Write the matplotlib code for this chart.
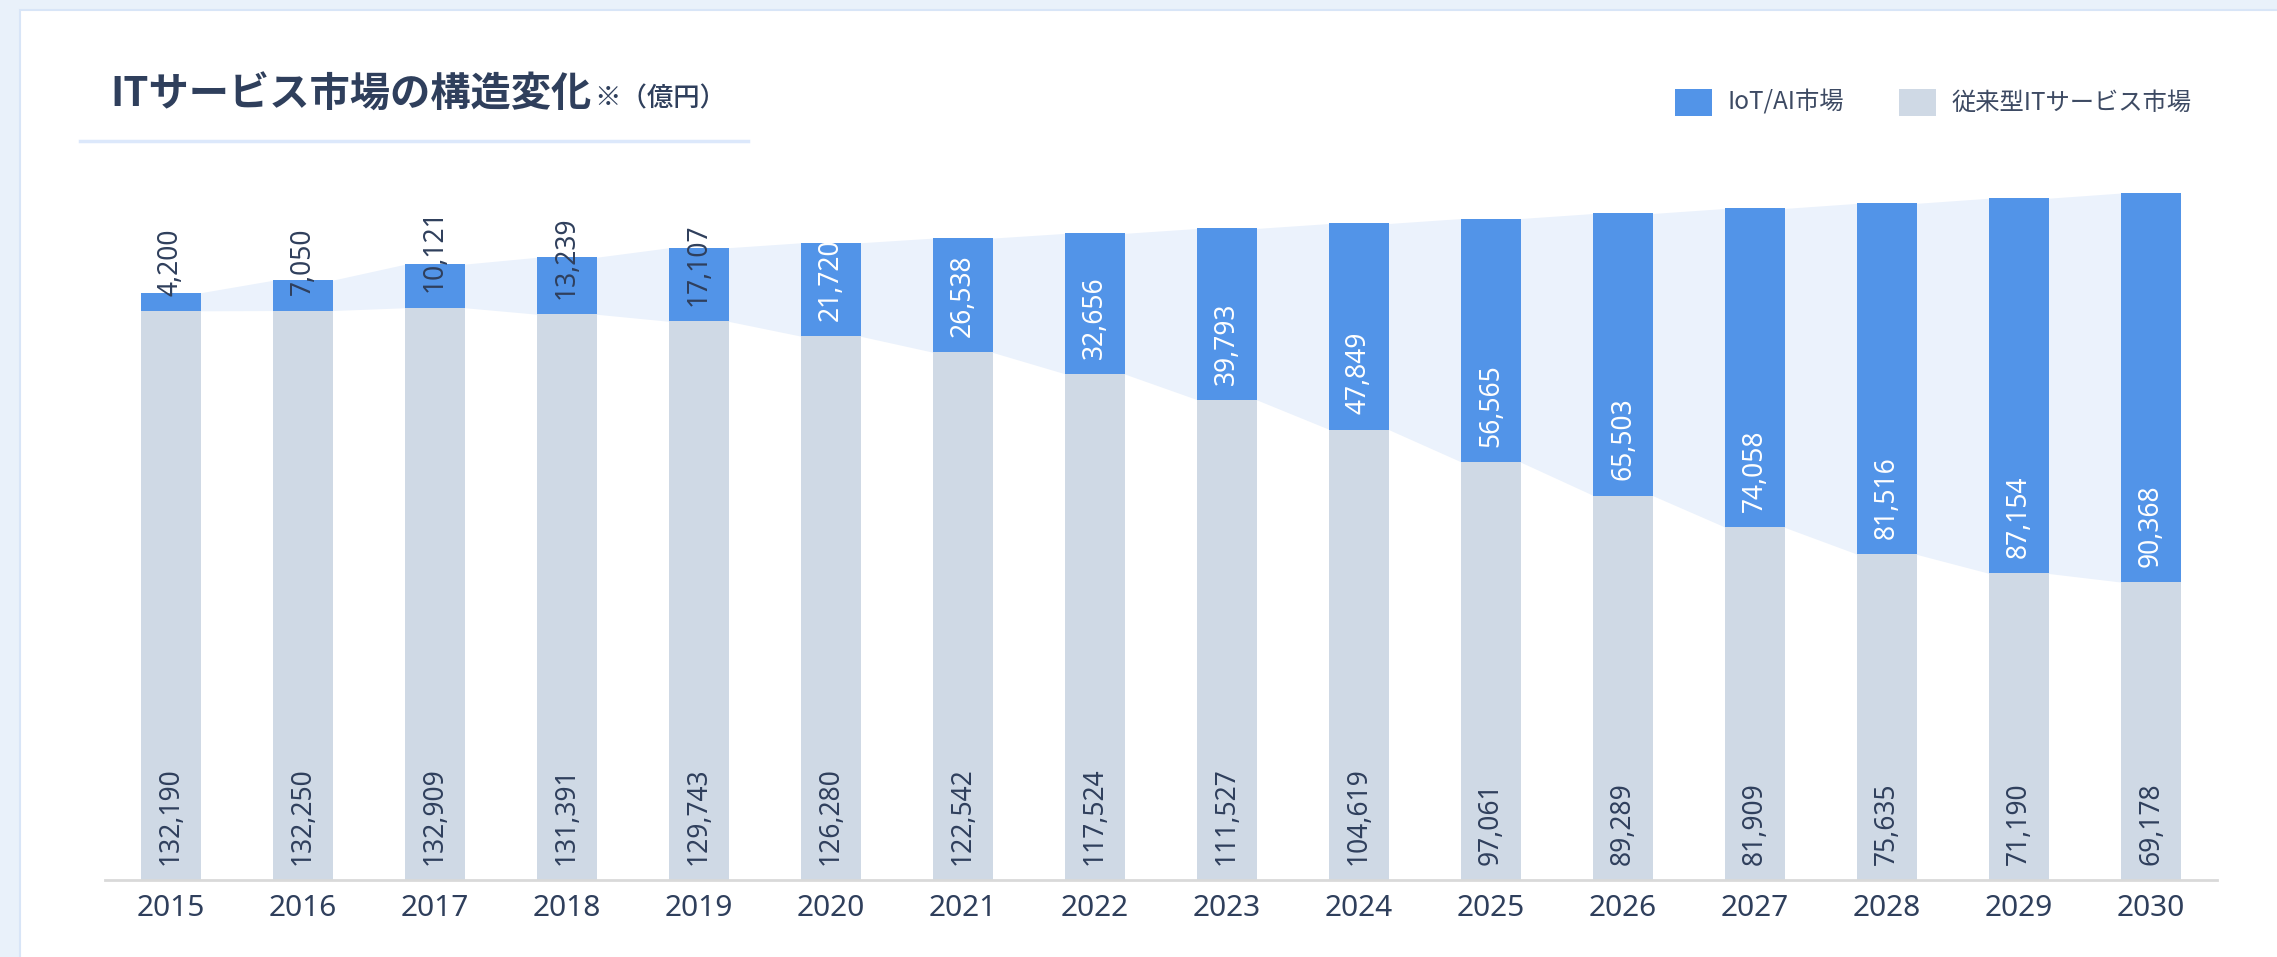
import numpy as np
import matplotlib.pyplot as plt
from matplotlib.patches import Rectangle

plt.rcParams['font.family'] = ['Noto Sans CJK JP', 'DejaVu Sans']

# データ（億円）
years = ['2015', '2016', '2017', '2018', '2019', '2020', '2021', '2022',
         '2023', '2024', '2025', '2026', '2027', '2028', '2029', '2030']
legacy = [132190, 132250, 132909, 131391, 129743, 126280, 122542, 117524,
          111527, 104619, 97061, 89289, 81909, 75635, 71190, 69178]
iot_ai = [4200, 7050, 10121, 13239, 17107, 21720, 26538, 32656,
          39793, 47849, 56565, 65503, 74058, 81516, 87154, 90368]

BLUE = '#5294e8'
GRAY = '#cfd9e5'
BAND = '#ebf2fc'
TEXT = '#2f3f5c'
NUM_FONT = ['Noto Sans', 'DejaVu Sans']

W, H = 2277, 957
fig = plt.figure(figsize=(W / 100, H / 100), dpi=100)
fig.patch.set_facecolor('#e9f1fa')


def fx(px):
    return px / W


def fy(py):
    return 1 - py / H


# 白いカード（背景）
fig.patches.append(Rectangle((fx(20), -0.01), 1, fy(10) + 0.01, transform=fig.transFigure,
                             facecolor='white', edgecolor='#d8e5f7', linewidth=1.5,
                             zorder=-10))

ax = fig.add_axes([fx(105), fy(880), fx(2217) - fx(105), fy(148) - fy(880)])
ax.set_facecolor('none')

x = np.arange(len(years))
w = 0.447
legacy = np.array(legacy)
iot_ai = np.array(iot_ai)
total = legacy + iot_ai

# 帯（バーの間の推移）
bx = np.column_stack([x - w / 2, x + w / 2]).ravel()
ax.fill_between(bx, np.repeat(legacy, 2), np.repeat(total, 2), color=BAND,
                linewidth=0, zorder=1)

ax.bar(x, legacy, width=w, color=GRAY, zorder=2)
ax.bar(x, iot_ai, width=w, bottom=legacy, color=BLUE, zorder=2)

for i in range(len(years)):
    ax.annotate(f'{legacy[i]:,}', (x[i], 0), xytext=(0, 11), textcoords='offset points',
                rotation=90, ha='center', va='bottom', fontsize=19, color=TEXT,
                family=NUM_FONT, fontweight='light', zorder=3)
    col = TEXT if iot_ai[i] < 20000 else 'white'
    ax.annotate(f'{iot_ai[i]:,}', (x[i], legacy[i]), xytext=(0, 11),
                textcoords='offset points', rotation=90, ha='center', va='bottom',
                fontsize=19, color=col, family=NUM_FONT, fontweight='light', zorder=3)

ax.set_xlim(-0.5, len(years) - 0.5)
ax.set_ylim(0, 170000)
ax.set_xticks(x, years)
ax.tick_params(axis='x', length=0, pad=10, labelsize=21.5, labelcolor=TEXT)
for lab in ax.get_xticklabels():
    lab.set_family(NUM_FONT)
ax.set_yticks([])
for s in ['top', 'right', 'left']:
    ax.spines[s].set_visible(False)
ax.spines['bottom'].set_color('#d9d9d9')
ax.spines['bottom'].set_linewidth(2)

# タイトル
t = fig.text(fx(110), fy(95), 'ITサービス市場の構造変化', fontsize=29, fontweight='bold',
             color=TEXT, va='center', ha='left')
fig.canvas.draw()
bb = t.get_window_extent()
fig.text(bb.x1 / W + fx(3), fy(99), '※（億円）', fontsize=19, fontweight='medium',
         color=TEXT, va='center', ha='left')
fig.add_artist(plt.Line2D([fx(80), fx(748)], [fy(141), fy(141)], color='#dce8fb',
                          linewidth=2.5, transform=fig.transFigure))

# 凡例
for sx, label, c in [(1675, 'IoT/AI市場', BLUE), (1899, '従来型ITサービス市場', GRAY)]:
    fig.patches.append(Rectangle((fx(sx), fy(116)), fx(37), fy(89) - fy(116),
                                 transform=fig.transFigure, facecolor=c, edgecolor='none'))
    fig.text(fx(sx + 53), fy(103), label, fontsize=17.5, color='#3d4a63',
             va='center', ha='left')

plt.savefig('out.png', dpi=100, facecolor=fig.get_facecolor())
